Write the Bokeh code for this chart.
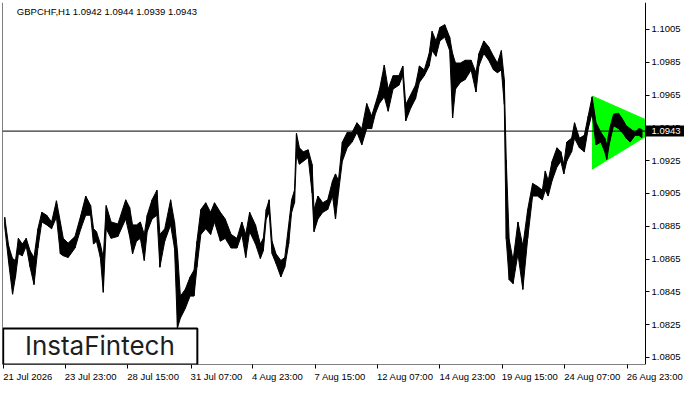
from bokeh.plotting import figure
from bokeh.models import (ColumnDataSource, Range1d, FixedTicker, PrintfTickFormatter,
                          Span, Label, LinearAxis)
from bokeh.core.properties import value
from bokeh.embed import file_html
from bokeh.resources import INLINE

# ---- data ----
bar_idx = [1, 5, 9, 12, 15, 19, 23, 27, 31, 35, 39, 44, 49, 54, 58, 61, 66, 73, 79, 84,
           89, 92, 95, 99, 102, 105, 110, 117, 125, 129, 132, 136, 140, 144, 147, 152, 157, 160, 165, 171,
           175, 178, 181, 186, 191, 195, 198, 202, 207, 212, 216, 222, 227, 233, 239, 244, 248, 252, 258, 263,
           266, 269, 272, 275, 279, 284, 288, 292, 295, 298, 300, 303, 307, 312, 316, 318, 322, 327, 332, 337,
           340, 343, 347, 352, 357, 362, 367, 372, 377, 381, 385, 390, 394, 399, 405, 409, 412, 417, 422, 426,
           431, 436, 439, 443, 447, 452, 457, 460, 463, 468, 473, 479, 484, 487, 492, 497, 502, 506, 510, 513,
           515, 518, 522, 527, 532, 537, 542, 547, 552, 555, 558, 562, 567, 571, 574, 577, 582, 585, 590, 595,
           599, 603, 607, 612, 616, 618, 621, 625, 630, 634, 638, 642, 647, 651, 654]
highs = [1.08905, 1.08729, 1.08653, 1.08641, 1.08776, 1.08741, 1.08776, 1.08700, 1.08659, 1.08835,
         1.08935, 1.08917, 1.08876, 1.09005, 1.08876, 1.08776, 1.08747, 1.08788, 1.08917, 1.09034,
         1.08976, 1.08835, 1.08817, 1.08741, 1.08659, 1.08976, 1.08876, 1.08864, 1.09011, 1.08964,
         1.08858, 1.08858, 1.08876, 1.08800, 1.08917, 1.09011, 1.09070, 1.08800, 1.08835, 1.09011,
         1.08876, 1.08700, 1.08424, 1.08465, 1.08541, 1.08582, 1.08759, 1.08952, 1.08993, 1.08935,
         1.08993, 1.08935, 1.08894, 1.08800, 1.08776, 1.08876, 1.08800, 1.08935, 1.08858, 1.08741,
         1.08776, 1.08952, 1.09011, 1.08759, 1.08682, 1.08641, 1.08659, 1.08858, 1.09011, 1.09070,
         1.09416, 1.09328, 1.09304, 1.09316, 1.09228, 1.08952, 1.09034, 1.08993, 1.09011, 1.09128,
         1.09169, 1.09128, 1.09363, 1.09422, 1.09422, 1.09481, 1.09445, 1.09598, 1.09522, 1.09598,
         1.09680, 1.09833, 1.09686, 1.09768, 1.09768, 1.09827, 1.09592, 1.09651, 1.09710, 1.09827,
         1.09803, 1.09903, 1.10038, 1.09980, 1.10062, 1.10079, 1.10003, 1.09903, 1.09845, 1.09845,
         1.09862, 1.09862, 1.09786, 1.09903, 1.09980, 1.09944, 1.09886, 1.09845, 1.09921, 1.09745,
         1.09257, 1.08770, 1.08641, 1.08876, 1.08729, 1.08952, 1.09111, 1.09093, 1.09070, 1.09187,
         1.09128, 1.09246, 1.09328, 1.09304, 1.09228, 1.09363, 1.09387, 1.09481, 1.09387, 1.09404,
         1.09522, 1.09639, 1.09481, 1.09422, 1.09387, 1.09346, 1.09445, 1.09533, 1.09539, 1.09504,
         1.09463, 1.09445, 1.09422, 1.09445, 1.09440]
lows = [1.08847, 1.08629, 1.08436, 1.08541, 1.08682, 1.08670, 1.08729, 1.08600, 1.08494, 1.08717,
        1.08876, 1.08858, 1.08835, 1.08905, 1.08682, 1.08670, 1.08659, 1.08717, 1.08835, 1.08917,
        1.08917, 1.08741, 1.08759, 1.08659, 1.08447, 1.08835, 1.08776, 1.08788, 1.08894, 1.08788,
        1.08682, 1.08759, 1.08776, 1.08641, 1.08817, 1.08894, 1.08917, 1.08600, 1.08759, 1.08858,
        1.08717, 1.08230, 1.08289, 1.08348, 1.08424, 1.08424, 1.08600, 1.08800, 1.08835, 1.08800,
        1.08876, 1.08759, 1.08776, 1.08717, 1.08717, 1.08800, 1.08659, 1.08817, 1.08741, 1.08653,
        1.08700, 1.08894, 1.08935, 1.08682, 1.08623, 1.08541, 1.08600, 1.08741, 1.08935, 1.08993,
        1.09287, 1.09228, 1.09246, 1.09269, 1.09052, 1.08817, 1.08894, 1.08935, 1.08952, 1.09034,
        1.08894, 1.09052, 1.09246, 1.09328, 1.09363, 1.09422, 1.09346, 1.09445, 1.09445, 1.09539,
        1.09598, 1.09639, 1.09551, 1.09686, 1.09710, 1.09768, 1.09492, 1.09569, 1.09627, 1.09727,
        1.09768, 1.09827, 1.09921, 1.09886, 1.09980, 1.10003, 1.09921, 1.09510, 1.09686, 1.09727,
        1.09745, 1.09803, 1.09668, 1.09827, 1.09903, 1.09862, 1.09803, 1.09786, 1.09803, 1.09592,
        1.08770, 1.08524, 1.08500, 1.08682, 1.08465, 1.08776, 1.09034, 1.09034, 1.09011, 1.09070,
        1.09034, 1.09128, 1.09211, 1.09246, 1.09169, 1.09246, 1.09304, 1.09387, 1.09328, 1.09304,
        1.09445, 1.09539, 1.09346, 1.09363, 1.09304, 1.09257, 1.09363, 1.09463, 1.09445, 1.09422,
        1.09387, 1.09363, 1.09404, 1.09404, 1.09390]

pennant_idx = [603.4, 603.4, 674.2]
pennant_price = [1.09643, 1.09199, 1.09457]

time_tick_idx = [0, 63, 127, 192, 255, 319, 383, 447, 511, 575, 639]
time_tick_labels = ["21 Jul 2026", "23 Jul 23:00", "28 Jul 15:00", "31 Jul 07:00", "4 Aug 23:00",
                    "7 Aug 15:00", "12 Aug 07:00", "14 Aug 23:00", "19 Aug 15:00", "24 Aug 07:00",
                    "26 Aug 23:00"]
price_ticks = [1.0805, 1.0825, 1.0845, 1.0865, 1.0885, 1.0905, 1.0925, 1.0945, 1.0965, 1.0985, 1.1005]

symbol_text = "GBPCHF,H1  1.0942 1.0944 1.0939 1.0943"
last_price = 1.0943
last_price_text = "1.0943"
brand_text = "InstaFintech"

# ---- layout constants ----
x_start, x_end = -1.3, 657.7          # chart area (bars)
axis_bars = 40                        # width of price-scale strip, in bar units
x_full_end = x_end + axis_bars
y_start, y_end = 1.08007, 1.10214

W, H = 684, 384
BL, BR, BT, BB = 2, 0, 2, 20
frame_w = W - BL - BR
frame_h = H - BT - BB
px_per_bar = frame_w / (x_full_end - x_start)
price_per_px = (y_end - y_start) / frame_h

FONT = "Liberation Sans"
FS_PX = 9.5
FS = f"{FS_PX}px"

p = figure(width=W, height=H, output_backend="svg", toolbar_location=None,
           x_range=Range1d(x_start, x_full_end), y_range=Range1d(y_start, y_end),
           y_axis_location=None, min_border_left=BL, min_border_top=BT,
           min_border_right=BR, min_border_bottom=BB)
p.background_fill_color = "white"
p.border_fill_color = "white"
p.outline_line_color = None
p.xgrid.visible = False
p.ygrid.visible = False

# pennant
p.patch(pennant_idx, pennant_price, fill_color="#00ff00", line_color="#00ff00", line_width=1)

# price bars
src = ColumnDataSource(dict(x=bar_idx, hi=highs, lo=lows))
p.varea(x="x", y1="lo", y2="hi", source=src, fill_color="black")
p.segment(x0="x", y0="lo", x1="x", y1="hi", source=src, line_color="black", line_width=1.2)
p.line("x", "hi", source=src, line_color="black", line_width=1)
p.line("x", "lo", source=src, line_color="black", line_width=1)

# white price-scale strip (hides the pennant tip beyond the chart area)
p.quad(left=[x_end], right=[x_full_end], top=[y_end], bottom=[y_start],
       fill_color="white", line_color=None)

p.add_layout(Span(location=last_price, dimension="width", line_color="black", line_width=1))

# ---- time axis: labels left-aligned at their tick (label centred right of the tick) ----
char_w = {" ": 0.278, ".": 0.278, ":": 0.278, "l": 0.222, "J": 0.5, "A": 0.667, "u": 0.556, "g": 0.556}
def text_px(s):
    return sum(char_w.get(c, 0.556) for c in s) * FS_PX

label_centres = [t + (text_px(l) / 2 - 0.5) / px_per_bar for t, l in zip(time_tick_idx, time_tick_labels)]
xa = p.xaxis[0]
xa.ticker = FixedTicker(ticks=label_centres, minor_ticks=time_tick_idx)
xa.major_label_overrides = {c: l for c, l in zip(label_centres, time_tick_labels)}
xa.axis_line_color = None
xa.major_tick_line_color = None
xa.major_tick_out = 4
xa.major_tick_in = 0
xa.minor_tick_line_color = "black"
xa.minor_tick_out = 4
xa.minor_tick_in = 0
xa.major_label_standoff = 2
xa.major_label_text_font = FONT
xa.major_label_text_font_size = FS
xa.major_label_text_color = "black"

# bottom and left borders of the chart area (lines only, no ticks)
bottom_line = LinearAxis(fixed_location=y_start, bounds=(x_start, x_end),
                         ticker=FixedTicker(ticks=[]), major_tick_line_color=None,
                         minor_tick_line_color=None, axis_line_color="black")
p.add_layout(bottom_line, "below")
left_line = LinearAxis(fixed_location=x_start, ticker=FixedTicker(ticks=[]),
                       major_tick_line_color=None, minor_tick_line_color=None,
                       axis_line_color="black")
p.add_layout(left_line, "left")

# ---- price axis at the right edge of the chart area ----
ya = LinearAxis(fixed_location=x_end, ticker=FixedTicker(ticks=price_ticks),
                formatter=PrintfTickFormatter(format="%.4f"))
ya.axis_line_color = "black"
ya.major_tick_line_color = "black"
ya.major_tick_out = 4
ya.major_tick_in = 0
ya.minor_tick_line_color = None
ya.major_label_standoff = 2
ya.major_label_text_font = FONT
ya.major_label_text_font_size = FS
ya.major_label_text_color = "black"
p.add_layout(ya, "right")

# current price tag
half_tag = 5.5 * price_per_px
p.quad(left=[x_end], right=[x_full_end], top=[last_price + half_tag],
       bottom=[last_price - half_tag], fill_color="black", line_color=None, level="overlay")
p.text(x=[x_end], y=[last_price], text=[last_price_text], x_offset=6,
       text_baseline="middle", text_align="left", text_color="white",
       text_font=value(FONT), text_font_size=FS, level="overlay")

# symbol header
p.add_layout(Label(x=13.4, y=1.10162, text=symbol_text, text_baseline="middle",
                   text_align="left", text_color="black", text_font=FONT, text_font_size=FS))

# brand box
p.quad(left=[-0.6], right=[198.4], top=[1.08226], bottom=[y_start],
       fill_color="white", line_color="black", line_width=2)
p.add_layout(Label(x=98.5, y=1.08122, text=brand_text, text_align="center",
                   text_baseline="middle", text_font="Inter", text_font_size="26px",
                   text_color="#1e1e1e"))

open("out.html", "w").write(file_html(p, INLINE))
